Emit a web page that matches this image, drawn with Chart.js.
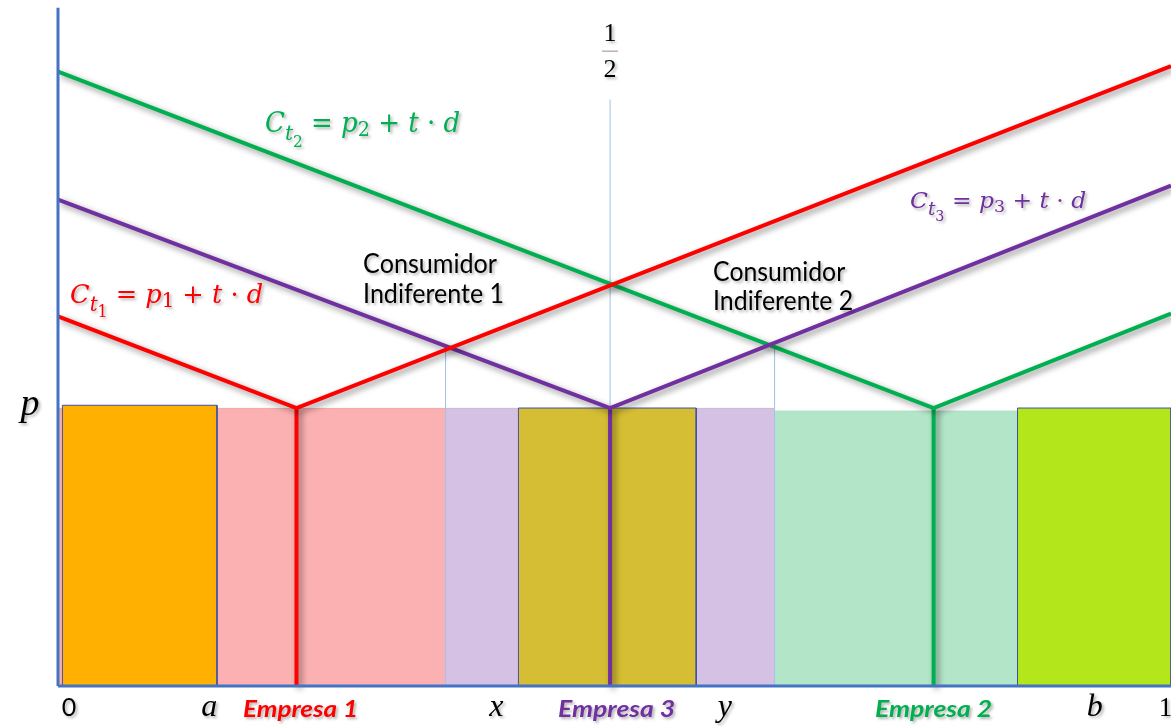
<!DOCTYPE html>
<html>
<head>
<meta charset="utf-8">
<script src="https://cdn.jsdelivr.net/npm/chart.js@4.4.1/dist/chart.umd.min.js"></script>
<style>
  html, body { margin: 0; padding: 0; background: #fff; overflow: hidden; }
  #wrap { width: 1171px; height: 726px; }
</style>
</head>
<body>
<div id="wrap"><canvas id="hotelling"></canvas></div>
<script>
// --- values (x: unit line 0..1, y: price p = 1) ---
const firmNames = ["Empresa 1", "Empresa 3", "Empresa 2"];
const firmPos = [0.216, 0.5, 0.793];
const firmColors = ["#ff0000", "#7030a0", "#00b050"];
const costAtLeft = [1.33, 1.75, 2.21];   // cost line value at x = 0
const costAtRight = [2.23, 1.80, 1.34];  // cost line value at right edge
const price = 1;
const xMax = 1.008;
const yMax = 2.468;

// market of each firm (shaded bands)
const marketFrom = [0, 0.351, 0.649];
const marketTo = [0.351, 0.649, 1.008];
const marketTop = [1.0, 1.0, 0.99];
const marketColors = ["#fbb1b1", "#d5c1e3", "#b3e6c9"];

// solid boxes
const boxFrom = [0.004, 0.417, 0.869];
const boxTo = [0.144, 0.578, 1.008];
const boxTop = [1.01, 1.0, 1.0];
const boxColors = ["#ffb000", "#d5be33", "#b3e71b"];

// thin guides: indifferent consumer 1, 1/2, indifferent consumer 2
const guideX = [0.351, 0.5, 0.649];
const guideTop = [1.22, 2.11, 1.22];

// axis labels under the line
const tickLabels = ["0", "a", "x", "y", "b", "1"];
const tickPos = [0.010, 0.137, 0.397, 0.604, 0.939, 1.003];

const datasets = [];

function addLine(points, color, width, order, extra) {
    datasets.push(Object.assign({
        data: points,
        borderColor: color,
        borderWidth: width,
        pointRadius: 0,
        fill: false,
        tension: 0,
        order: order,
        clip: 10
    }, extra || {}));
}

// axes
addLine([{ x: 0, y: 0 }, { x: 0, y: 2.44 }], "#4472c4", 3, 0);
addLine([{ x: 0, y: 0 }, { x: xMax, y: 0 }], "#4472c4", 3, 0);

// cost lines and firm verticals
firmPos.forEach((pos, i) => {
    addLine([{ x: 0, y: costAtLeft[i] }, { x: pos, y: price }, { x: xMax, y: costAtRight[i] }],
        firmColors[i], 4, 1, { shadow: true, borderJoinStyle: "miter" });
    addLine([{ x: pos, y: 0 }, { x: pos, y: price }], firmColors[i], 4, 1, { shadow: true });
});

// guides
guideX.forEach((gx, i) => {
    addLine([{ x: gx, y: 0 }, { x: gx, y: guideTop[i] }], "#9dc3e6", 1, 2);
});

// boxes
boxFrom.forEach((from, i) => {
    addLine([{ x: from, y: 0 }, { x: from, y: boxTop[i] }, { x: boxTo[i], y: boxTop[i] }, { x: boxTo[i], y: 0 }],
        "#3f51a3", 1, 3, { fill: "origin", backgroundColor: boxColors[i] });
});

// markets
marketFrom.forEach((from, i) => {
    addLine([{ x: from, y: marketTop[i] }, { x: marketTo[i], y: marketTop[i] }],
        "rgba(0,0,0,0.06)", 1, 4, { fill: "origin", backgroundColor: marketColors[i] });
});

const lineShadow = {
    id: "lineShadow",
    beforeDatasetDraw(chart, args) {
        if (!args.meta._dataset.shadow) return;
        const ctx = chart.ctx;
        ctx.save();
        ctx.shadowColor = "rgba(0,0,0,0.45)";
        ctx.shadowBlur = 6;
        ctx.shadowOffsetX = 3;
        ctx.shadowOffsetY = 3;
    },
    afterDatasetDraw(chart, args) {
        if (args.meta._dataset.shadow) chart.ctx.restore();
    }
};

const SERIF = "'DejaVu Serif', 'Liberation Serif', serif";
const SANS = "Lato, 'Open Sans', sans-serif";

function textShadow(ctx) {
    ctx.shadowColor = "rgba(0,0,0,0.3)";
    ctx.shadowBlur = 3;
    ctx.shadowOffsetX = 2;
    ctx.shadowOffsetY = 2;
}

function fitText(ctx, text, left, right, baseline, font, color) {
    ctx.font = font;
    const w = ctx.measureText(text).width;
    ctx.save();
    textShadow(ctx);
    ctx.translate(left, baseline);
    ctx.scale((right - left) / w, 1);
    ctx.fillStyle = color;
    ctx.textAlign = "left";
    ctx.textBaseline = "alphabetic";
    ctx.fillText(text, 0, 0);
    ctx.restore();
}

function drawFormula(ctx, digit, left, right, baseline, size, color) {
    // [text, size factor, drop factor, italic]
    const parts = [
        ["C", 1, 0, true], ["t", 0.78, 0.3, true], [digit, 0.6, 0.55, false],
        [" = ", 1, 0, false], ["p", 1, 0, true], [digit, 0.75, 0.15, false],
        [" + ", 1, 0, false], ["t", 1, 0, true], [" \u00b7 ", 1, 0, false], ["d", 1, 0, true]
    ];
    let total = 0;
    const widths = parts.map(p => {
        ctx.font = (p[3] ? "italic " : "") + Math.round(size * p[1]) + "px " + SERIF;
        const w = ctx.measureText(p[0]).width;
        total += w;
        return w;
    });
    ctx.save();
    textShadow(ctx);
    ctx.translate(left, baseline);
    ctx.scale((right - left) / total, 1);
    ctx.fillStyle = color;
    let x = 0;
    parts.forEach((p, i) => {
        ctx.font = (p[3] ? "italic " : "") + Math.round(size * p[1]) + "px " + SERIF;
        ctx.fillText(p[0], x, p[2] * size);
        x += widths[i];
    });
    ctx.restore();
}

const annotations = {
    id: "annotations",
    afterDraw(chart) {
        const ctx = chart.ctx;
        const sx = chart.scales.x, sy = chart.scales.y;
        const px = v => sx.getPixelForValue(v);
        const py = v => sy.getPixelForValue(v);

        // formulas
        drawFormula(ctx, "2", px(0.1875), px(0.3641), py(1.993), 27, firmColors[2]);
        drawFormula(ctx, "1", px(0.0109), px(0.1857), py(1.378), 26, firmColors[0]);
        drawFormula(ctx, "3", px(0.7717), px(0.9312), py(1.719), 23, firmColors[1]);

        // indifferent consumers
        const f = "26px " + SANS;
        fitText(ctx, "Consumidor", px(0.2763), px(0.3976), py(1.486), f, "#000");
        fitText(ctx, "Indiferente 1", px(0.2763), px(0.4040), py(1.378), f, "#000");
        fitText(ctx, "Consumidor", px(0.5933), px(0.7129), py(1.457), f, "#000");
        fitText(ctx, "Indiferente 2", px(0.5933), px(0.7201), py(1.353), f, "#000");

        // firm names under the axis
        const nameFrom = [0.1676, 0.4529, 0.7400];
        const nameTo = [0.2717, 0.5589, 0.8460];
        firmNames.forEach((n, i) => {
            fitText(ctx, n, px(nameFrom[i]), px(nameTo[i]), py(-0.1115),
                "italic bold 23px " + SANS, firmColors[i]);
        });

        // tick labels
        ctx.save();
        textShadow(ctx);
        ctx.fillStyle = "#000";
        ctx.textAlign = "center";
        ctx.textBaseline = "alphabetic";
        tickLabels.forEach((t, i) => {
            if (t === "0") ctx.font = "25px " + SANS;
            else if (t === "1") ctx.font = "27px 'Liberation Serif', serif";
            else ctx.font = "italic 32px 'Liberation Serif', serif";
            ctx.fillText(t, px(tickPos[i]), py(-0.108));
        });
        // p on the price level
        ctx.font = "italic 38px 'Liberation Serif', serif";
        ctx.fillText("p", px(-0.0254), py(0.975));
        // 1/2 over the middle guide
        ctx.font = "26px 'Liberation Serif', serif";
        ctx.fillText("1", px(0.5), py(2.320));
        ctx.fillText("2", px(0.5), py(2.191));
        ctx.restore();
        ctx.save();
        ctx.strokeStyle = "#a08a8a";
        ctx.lineWidth = 1;
        ctx.beginPath();
        ctx.moveTo(px(0.5) - 8, py(2.284));
        ctx.lineTo(px(0.5) + 8, py(2.284));
        ctx.stroke();
        ctx.restore();
    }
};

new Chart(document.getElementById("hotelling"), {
    type: "line",
    data: { datasets: datasets },
    options: {
        responsive: true,
        maintainAspectRatio: false,
        animation: false,
        layout: { padding: { left: 58, right: 0, top: 0, bottom: 40 } },
        plugins: {
            legend: { display: false },
            tooltip: { enabled: false }
        },
        scales: {
            x: { type: "linear", min: 0, max: xMax, display: false },
            y: { type: "linear", min: 0, max: yMax, display: false }
        }
    },
    plugins: [lineShadow, annotations]
});
</script>
</body>
</html>
